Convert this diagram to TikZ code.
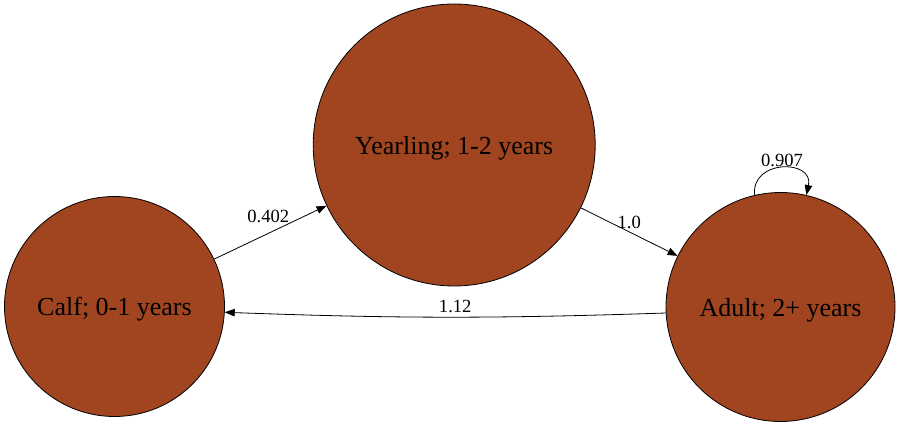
\documentclass[tikz,border=0pt]{standalone}
\usepackage{fontspec}
\setmainfont{Liberation Serif}
\usetikzlibrary{arrows.meta}
\definecolor{stagefill}{RGB}{160,69,31}

\begin{document}
\begin{tikzpicture}[x=1pt,y=1pt,
    stage/.style={circle,draw=black,line width=0.8pt,fill=stagefill,
                  inner sep=0pt,text depth=0pt,font=\fontsize{26}{28}\selectfont},
    trans/.style={-{Triangle[length=10pt,width=7.5pt]},line width=0.8pt},
    rate/.style={inner sep=1pt,font=\fontsize{18.6}{20}\selectfont}]
    \useasboundingbox (0,0) rectangle (901,427);
    \node[stage,minimum size=220pt] (calf) at (114.5,120.5) {Calf; 0-1 years};
    \node[stage,minimum size=282pt] (yearling) at (454.2,282) {Yearling; 1-2 years};
    \node[stage,minimum size=229pt] (adult) at (780.5,120) {Adult; 2+ years};
    \draw[trans] (calf) -- node[rate,above=8pt,xshift=-2pt] {0.402} (yearling);
    \draw[trans] (yearling) -- node[rate,above=2pt] {1.0} (adult);
    \draw[trans] (adult.183) to[bend left=2] node[rate,above=3pt,xshift=10pt] {1.12} (calf.357);
    \draw[trans] (adult.103) .. controls +(-4,36) and +(8,36) .. node[rate,above=0pt] {0.907} (adult.77);
\end{tikzpicture}
\end{document}
